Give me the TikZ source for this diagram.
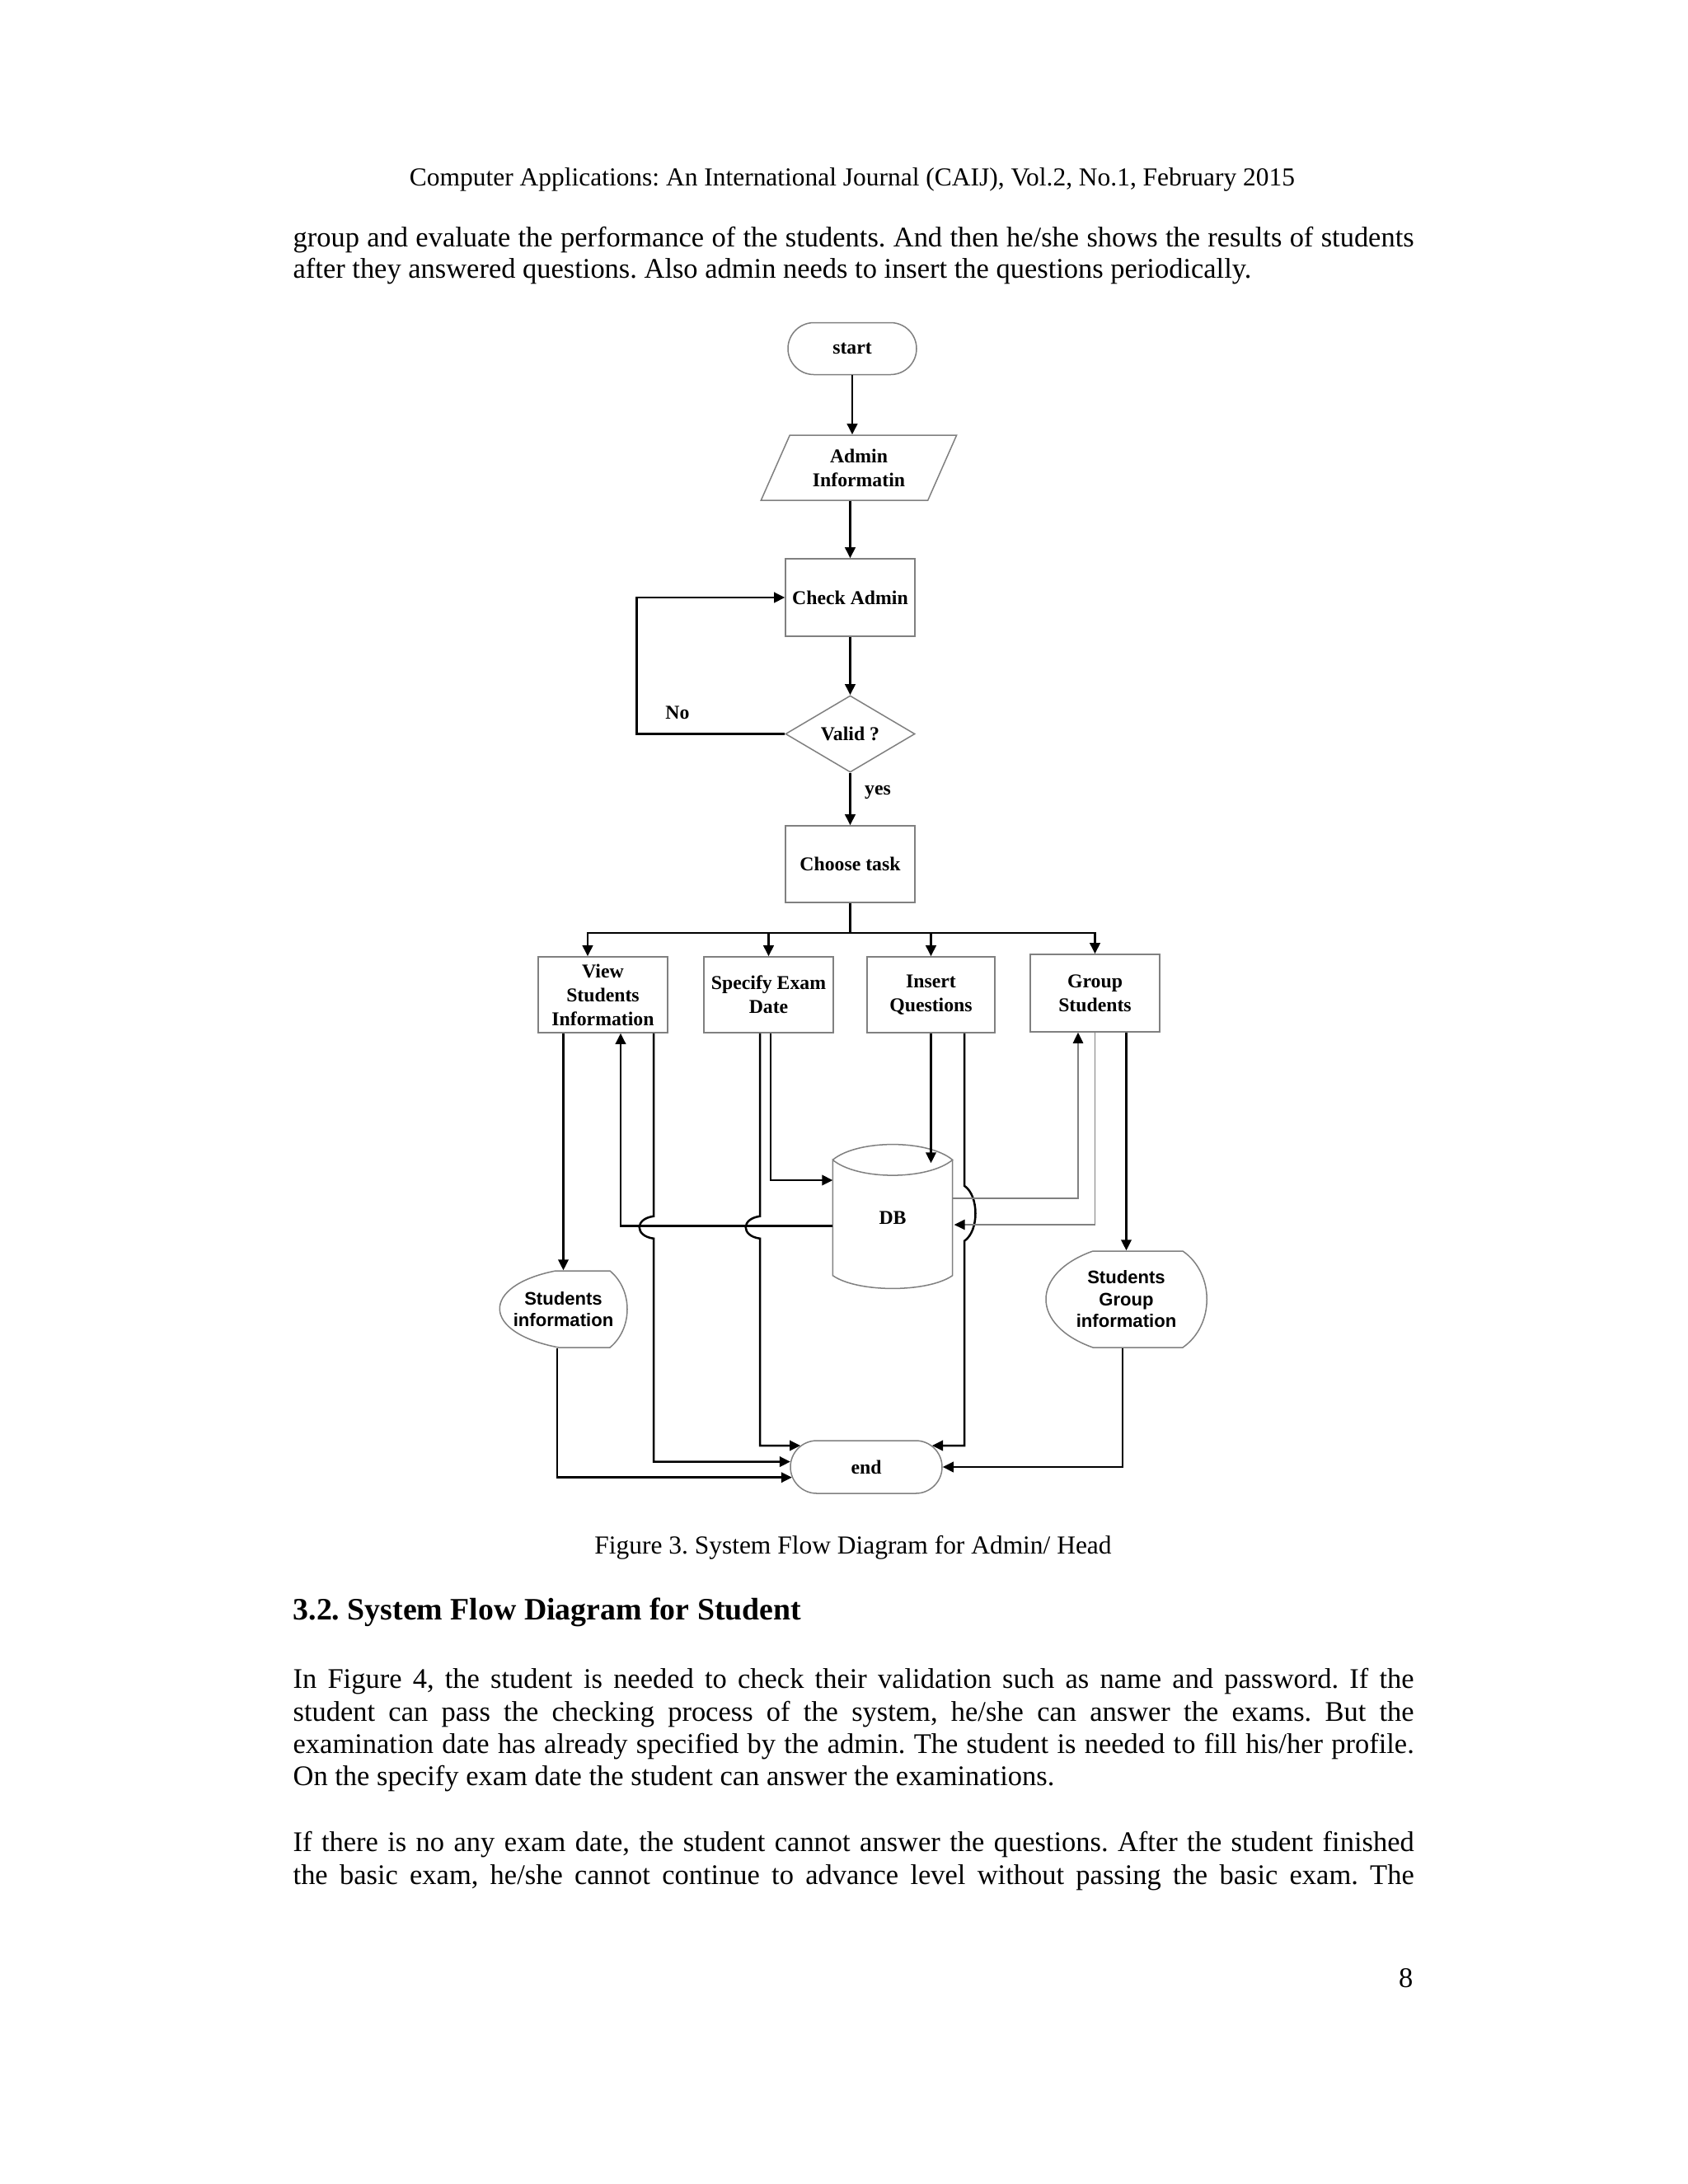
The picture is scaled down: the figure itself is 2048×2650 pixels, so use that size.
\documentclass[tikz,border=0pt]{standalone}
\usepackage{fontspec}
\setmainfont{Liberation Serif}
\newfontfamily\arialFont{Liberation Sans}
\usetikzlibrary{positioning,shapes.geometric,shapes.misc,arrows.meta,calc}
\frenchspacing
\newlength{\pxUnit}
\setlength{\pxUnit}{0.29883pt}
\definecolor{borderGray}{RGB}{128,128,128}
\newcommand{\diagramFont}{\bfseries\fontsize{7.1}{8.7}\selectfont}
\tikzstyle{pageStyle} = [x=\pxUnit, y=-\pxUnit]
\tikzstyle{boxStyle} = [draw=borderGray, line width=0.45pt, inner sep=0pt, align=center, font=\diagramFont, minimum width=157*\pxUnit, minimum height=93*\pxUnit]
\tikzstyle{terminalStyle} = [boxStyle, rounded rectangle]
\tikzstyle{decisionStyle} = [boxStyle, diamond]
\tikzstyle{inputStyle} = [boxStyle, trapezium, trapezium left angle=63, trapezium right angle=117, trapezium stretches=true]
\tikzstyle{outputText} = [inner sep=0pt, align=center, font=\arialFont\bfseries\fontsize{6.6}{7.9}\selectfont]
\tikzstyle{outlineStyle} = [draw=borderGray, line width=0.45pt]
\tikzstyle{flowLine} = [line width=0.75pt]
\tikzstyle{flowArrow} = [flowLine, -{Triangle[length=3.9pt, width=3.7pt]}]
\tikzstyle{thinArrow} = [line width=0.45pt, color=borderGray, -{Triangle[length=3.9pt, width=3.7pt, color=black]}]
\tikzstyle{labelText} = [inner sep=0pt, font=\diagramFont]
\tikzstyle{bodyText} = [anchor=base west, inner sep=0pt, font=\fontsize{10.3}{11.8}\selectfont]
\newcommand{\fullLine}[3]{\node [bodyText] (#1) at (355,#2) {\makebox[1360\pxUnit][s]{#3}};}
\newcommand{\lastLine}[3]{\node [bodyText] (#1) at (355,#2) {#3};}

\begin{document}
\begin{tikzpicture}[pageStyle]
  \path [use as bounding box, fill=white] (0,0) rectangle (2048,2650);

  % page text
  \node [anchor=base, inner sep=0pt, font=\fontsize{9.4}{11}\selectfont] (header) at (1034,225)
    {Computer Applications: An International Journal (CAIJ), Vol.2, No.1, February 2015};
  \fullLine{introA}{299}{group and evaluate the performance of the students. And then he/she shows the results of students}
  \lastLine{introB}{337}{after they answered questions. Also admin needs to insert the questions periodically.}

  % flow nodes
  \node [terminalStyle, minimum width=156*\pxUnit, minimum height=63*\pxUnit] (start) at (1034,423) {start};
  \node [inputStyle, minimum width=238*\pxUnit, minimum height=79*\pxUnit] (adminInfo) at (1042,567.5) {Admin\\Informatin};
  \node [boxStyle, minimum height=94*\pxUnit] (check) at (1031.5,725) {Check Admin};
  \node [decisionStyle] (valid) at (1031.5,890.5) {Valid ?};
  \node [boxStyle] (choose) at (1031.5,1048.5) {Choose task};
  \node [boxStyle, minimum height=92*\pxUnit] (view) at (731.5,1207) {View\\Students\\Information};
  \node [boxStyle, minimum height=92*\pxUnit] (spec) at (932.5,1207) {Specify Exam\\Date};
  \node [boxStyle, minimum height=92*\pxUnit, minimum width=155*\pxUnit] (insq) at (1129.5,1207) {Insert\\Questions};
  \node [boxStyle, minimum height=94*\pxUnit] (grp) at (1328.5,1205) {Group\\Students};
  \node [labelText, minimum width=144*\pxUnit, minimum height=139*\pxUnit] (db) at (1083,1477.5) {DB};
  \node [outputText, minimum width=155*\pxUnit, minimum height=93*\pxUnit] (sinfo) at (683.5,1588.5) {Students\\information};
  \node [outputText, minimum width=195*\pxUnit, minimum height=117*\pxUnit] (ginfo) at (1366.5,1576.5) {Students\\Group\\information};
  \node [terminalStyle, minimum width=184*\pxUnit, minimum height=64*\pxUnit] (endn) at (1051,1780) {end};
  \node [labelText] (noLabel) at (822,865) {No};
  \node [labelText] (yesLabel) at (1065,961) {yes};

  % database and output outlines
  \draw [outlineStyle] (db.north west) .. controls +(30,-25) and +(-30,-25) .. (db.north east)
    .. controls +(-30,25) and +(30,25) .. (db.north west) -- (db.south west)
    .. controls +(30,21) and +(-30,21) .. (db.south east) -- (db.north east);
  \draw [outlineStyle] (674,1542) -- (740,1542) .. controls (768,1565) and (768,1612) .. (740,1635)
    -- (678,1635) .. controls (583,1617) and (583,1560) .. cycle;
  \draw [outlineStyle] (1326,1518) -- (1435,1518) .. controls (1474,1545) and (1474,1608) .. (1435,1635)
    -- (1326,1635) .. controls (1250,1608) and (1250,1545) .. cycle;

  % main column
  \draw [flowArrow] (start.south) -- (start.south |- adminInfo.north);
  \draw [flowArrow] (adminInfo.south -| check.north) -- (check.north);
  \draw [flowArrow] (check.south) -- (valid.north);
  \draw [flowArrow] (valid.west) -- ++(-180,0) |- (check.west);
  \draw [flowArrow] (valid.south) -- (choose.north);
  \draw [flowLine] (choose.south) -- ++(0,36) coordinate (bus);
  \draw [flowArrow] (bus) -| ($(view.north)+(-18.5,0)$);
  \foreach \task in {spec,insq,grp}
    \draw [flowArrow] (bus) -| (\task.north);

  % tasks
  \draw [flowArrow] (view.south -| sinfo.north) -- (sinfo.north);
  \draw [flowArrow] ($(db.west)+(0,10)$) -| ($(view.south)+(21.5,0)$);
  \draw [flowArrow] ($(view.south)+(61.5,0)$) -- ++(0,222) .. controls +(-23,3) and +(-23,-3) .. ++(0,27) |- (endn.176);
  \draw [flowArrow] ($(spec.south)+(-10.5,0)$) -- ++(0,222) .. controls +(-23,3) and +(-23,-3) .. ++(0,27) |- (endn.162);
  \draw [flowArrow] ($(spec.south)+(2.5,0)$) |- ($(db.west)+(0,-45.5)$);
  \draw [flowArrow] (insq.south) -- ($(insq.south |- db.north)+(0,4)$);
  \draw [flowArrow] ($(insq.south)+(40.5,0)$) -- ++(0,185) .. controls +(18,12) and +(18,-12) .. ++(0,67) |- (endn.18);
  \draw [thinArrow] ($(db.east)+(0,-23.5)$) -| ($(grp.south)+(-20.5,0)$);
  \draw [thinArrow] (grp.south) |- ($(db.east)+(2,8.5)$);
  \draw [flowArrow] (grp.south -| ginfo.north) -- (ginfo.north);
  \draw [flowArrow] ($(sinfo.south)+(-7.5,0)$) |- (endn.188);
  \draw [flowArrow] ($(ginfo.south)+(-4.5,0)$) |- (endn.east);

  % caption and following text
  \node [anchor=base, inner sep=0pt, font=\fontsize{9.4}{11}\selectfont] (caption) at (1035,1885)
    {Figure 3. System Flow Diagram for Admin/ Head};
  \node [anchor=base west, inner sep=0pt, font=\bfseries\fontsize{11.3}{13}\selectfont] (heading) at (355,1965)
    {3.2. System Flow Diagram for Student};
  \fullLine{studA}{2048}{In Figure 4, the student is needed to check their validation such as name and password. If the}
  \fullLine{studB}{2088}{student can pass the checking process of the system, he/she can answer the exams. But the}
  \fullLine{studC}{2127}{examination date has already specified by the admin. The student is needed to fill his/her profile.}
  \lastLine{studD}{2166}{On the specify exam date the student can answer the examinations.}
  \fullLine{dateA}{2246}{If there is no any exam date, the student cannot answer the questions. After the student finished}
  \fullLine{dateB}{2286}{the basic exam, he/she cannot continue to advance level without passing the basic exam. The}
  \node [anchor=base east, inner sep=0pt, font=\fontsize{10.3}{11.8}\selectfont] (pageNum) at (1715,2411) {8};
\end{tikzpicture}
\end{document}
